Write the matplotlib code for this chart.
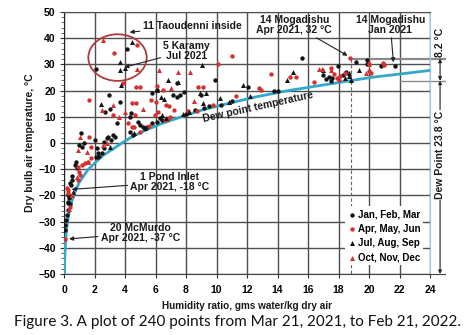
import matplotlib
matplotlib.use("Agg")
import matplotlib.pyplot as plt
from matplotlib.patches import Ellipse

plt.rcParams['font.family'] = ['Liberation Sans', 'DejaVu Sans']

# ---- Dew point curve (humidity ratio g/kg vs dew point °C) ----
dp_temp = [-50, -45, -40, -35, -30, -25, -20, -15, -10, -5, 0, 2.5, 5, 7.5, 10, 12.5, 15, 17.5, 20, 23.8, 25, 27.7]
dp_w = [0.024, 0.045, 0.079, 0.14, 0.23, 0.39, 0.63, 1.0, 1.6, 2.5, 3.8, 4.5, 5.4, 6.45, 7.7, 9.0, 10.7, 12.5, 14.7, 18.8, 20.1, 24.0]

# ---- Jan, Feb, Mar (black circles) ----
jfm_x = [0.07, 0.07, 0.11, 0.18, 0.24, 0.28, 0.4, 0.24, 0.33, 0.28, 0.46, 0.4, 0.5, 0.5, 0.72, 0.77, 0.83,
         1.16, 1.33, 1.1, 1.0, 2.03, 2.14, 2.2, 2.08, 2.9, 3.23, 3.34, 3.1, 2.25, 2.47, 2.6, 2.8, 2.6,
         2.1, 2.97, 3.67, 2.7, 3.0, 3.45, 4.3, 4.4, 4.87, 5.0, 5.16, 4.3, 4.5, 5.46, 5.75, 6.3, 6.4, 6.1,
         5.75, 7.17, 7.4, 7.4, 4.1, 7.9, 7.6, 12.07, 13.8, 14.0, 15.6, 17.95, 19.15, 19.9, 19.9, 20.8,
         21.7, 17.4, 17.6, 18.3, 9.9, 9.0, 6.07, 8.0, 8.6, 9.5, 10.3, 11.0, 9.2, 17.2, 17.5, 17.0, 18.5]
jfm_y = [-33.2, -31.3, -29.4, -27.5, -25.6, -23.0, -23.3, -22.4, -21.1, -19.8, -16.0, -15.4, -14.1, -12.5, -8.4, -7.1, -9.7,
         -1.4, -0.1, 3.9, -0.8, 1.1, -2.0, -4.0, -5.2, 2.4, 3.1, 2.2, 1.1, -5.5, -3.9, 0.5, 1.8, -2.0,
         28.1, 18.3, 15.8, 11.9, 12.9, 7.5, 10.0, 11.6, 8.1, 6.9, 6.2, 4.3, 3.1, 6.2, 7.5, 9.4, 8.8, 8.1,
         19.0, 18.3, 17.4, 22.8, 36.0, 19.6, 18.3, 21.4, 20.0, 20.0, 32.3, 29.4, 31.0, 30.3, 31.5, 29.4,
         29.5, 25.3, 25.0, 26.0, 24.2, 18.5, 20.3, 11.0, 12.5, 14.0, 14.5, 16.0, 13.5, 24.5, 23.8, 26.0, 27.0]

# ---- Apr, May, Jun (red circles) ----
amj_x = [0.07, 0.18, 0.28, 0.24, 0.4, 0.98, 1.05, 0.94, 1.8, 1.6, 1.38, 1.16, 0.94, 1.66, 1.8, 1.66,
         3.28, 4.77, 4.74, 4.98, 4.44, 4.75, 3.2, 4.65, 4.2, 4.44, 4.6, 5.0, 5.6, 5.7, 6.0, 6.7, 6.9, 7.2,
         5.97, 6.15, 6.6, 6.84, 6.95, 6.1, 8.8, 9.1, 8.15, 8.7, 9.8, 10.1, 11.0, 11.3, 12.8, 12.9, 13.55,
         14.8, 15.2, 16.4, 18.75, 21.0, 20.0, 20.1, 17.7, 17.9, 18.1, 18.0, 18.4, 17.5, 20.9, 6.5, 3.9]
amj_y = [-36.8, -17.3, -17.9, -19.2, -24.3, -11.0, -12.2, -14.1, -5.8, -7.1, -7.7, -8.4, -9.0, 2.4, -1.6, 16.4,
         34.2, 37.4, 21.5, 21.5, 15.1, 15.1, 10.7, 10.7, 7.5, 6.0, 6.2, 4.3, 6.3, 16.4, 15.8, 14.5, 14.1, 12.6,
         10.7, 11.9, 8.6, 9.2, 9.8, 21.8, 21.5, 21.5, 12.2, 12.4, 14.6, 30.2, 33.2, 17.9, 20.9, 20.2, 26.2,
         25.3, 25.3, 23.4, 32.3, 29.9, 27.3, 26.7, 26.5, 24.7, 25.5, 24.2, 26.8, 28.5, 30.5, 20.3, 22.8]

# ---- Jul, Aug, Sep (black triangles) ----
jas_x = [0.6, 2.4, 3.74, 3.67, 3.67, 4.0, 4.44, 6.8, 7.45, 6.08, 6.36, 6.56, 6.4, 6.7, 4.6, 9.03, 8.9,
         9.3, 10.2, 9.1, 11.75, 14.6, 15.0, 17.0, 19.35, 18.7, 18.7, 18.85, 18.4, 2.3, 3.0, 5.3, 7.8, 8.2,
         10.8, 12.2]
jas_y = [-18.6, 14.8, 22.1, 30.8, 27.9, 28.5, 38.7, 24.0, 23.4, 20.2, 17.7, 16.7, 10.7, 9.4, 3.7, 29.8, 19.2,
         19.2, 17.0, 15.1, 22.1, 24.0, 27.0, 28.0, 27.9, 26.6, 25.5, 24.0, 24.7, -4.5, -1.5, 5.8, 11.2, 11.8,
         15.8, 17.8]

# ---- Oct, Nov, Dec (red triangles) ----
ond_x = [1.05, 0.94, 1.49, 2.58, 2.8, 3.2, 2.47, 3.6, 4.0, 2.58, 4.77, 6.2, 7.5, 8.26, 8.5, 16.75,
         16.95, 17.5, 19.8, 20.0, 20.0, 1.55, 0.5, 0.3, 0.83, 5.2, 7.0]
ond_y = [2.4, -2.7, -3.3, -0.8, -0.1, 14.5, 12.6, 10.0, 11.8, 39.3, 28.1, 27.9, 27.2, 27.0, 16.0, 28.1,
         28.1, 27.9, 26.7, 31.0, 30.0, -7.1, -20.0, -25.0, -13.0, 13.0, 21.0]

x_ticks = list(range(0, 25, 2))
y_ticks = list(range(-50, 51, 10))

BLACK = '#141414'
RED = '#d3302f'
TEAL = '#33a9c9'
GRID = '#4f4f4f'
TXT = '#1a1a1a'

fig = plt.figure(figsize=(4.75, 3.35), dpi=100)
ax = fig.add_axes([64/475, 1-274/335, 366/475, 262/335])
ax.set_xlim(0, 24)
ax.set_ylim(-50, 50)
ax.set_xticks(x_ticks)
ax.set_yticks(y_ticks)
ax.set_yticks(range(-50, 51, 2), minor=True)
ax.grid(True, which='major', color=GRID, lw=1.0)
ax.set_axisbelow(True)
for lab in ax.get_xticklabels() + ax.get_yticklabels():
    lab.set_fontweight('bold')
ax.tick_params(axis='both', which='major', labelsize=7.5, length=3, width=0.8, color='#333333', pad=3)
ax.tick_params(axis='y', which='minor', length=2, width=0.6, color='#555555')
ax.tick_params(axis='x', pad=5)
ax.spines['left'].set_color('#222222')
ax.spines['bottom'].set_color('#444444')
ax.spines['top'].set_color(GRID)
ax.spines['right'].set_color('#8fcfde')

ax.plot(dp_w, dp_temp, color=TEAL, lw=2.0, zorder=3)

ax.scatter(jfm_x, jfm_y, marker='o', s=10, color=BLACK, lw=0, zorder=4, label='Jan, Feb, Mar')
ax.scatter(amj_x, amj_y, marker='o', s=10, color=RED, lw=0, zorder=4, label='Apr, May, Jun')
ax.scatter(jas_x, jas_y, marker='^', s=13, color=BLACK, lw=0, zorder=4, label='Jul, Aug, Sep')
ax.scatter(ond_x, ond_y, marker='^', s=13, color=RED, lw=0, zorder=4, label='Oct, Nov, Dec')

leg = ax.legend(loc='lower right', bbox_to_anchor=(0.995, 0.015), frameon=True, fancybox=False,
                edgecolor='none', facecolor='white', framealpha=1, handletextpad=0.2,
                borderpad=0.3, labelspacing=0.45, handlelength=0.8, markerscale=1.0,
                prop={'size': 7, 'weight': 'bold'})
leg.set_zorder(6)

# ellipse around Taoudenni points
ax.add_patch(Ellipse((3.51, 32.6), 3.83, 17.8, fill=False, edgecolor='#b23a3a', lw=1.3, zorder=5))

arrow_kw = dict(arrowstyle='-|>', color='#222222', lw=0.8, mutation_scale=6, shrinkA=0, shrinkB=0)
fs = 7.5
ax.annotate('11 Taoudenni inside', xy=(4.3, 42.3), xytext=(5.15, 44.5), fontsize=fs, fontweight='bold',
            color=TXT, ha='left', va='center', arrowprops=arrow_kw, zorder=7)
ax.annotate('5 Karamy\nJul 2021', xy=(3.95, 28.9), xytext=(8.05, 35.2), fontsize=fs, fontweight='bold',
            color=TXT, ha='center', va='center', linespacing=1.0, arrowprops=arrow_kw, zorder=7)
ax.annotate('14 Mogadishu\nApr 2021, 32 °C', xy=(18.6, 33.3), xytext=(15.1, 45.0), fontsize=fs,
            fontweight='bold', color=TXT, ha='center', va='center', linespacing=1.0,
            arrowprops=arrow_kw, zorder=7)
ax.annotate('14 Mogadishu\nJan 2021', xy=(21.6, 30.8), xytext=(21.4, 45.0), fontsize=fs,
            fontweight='bold', color=TXT, ha='center', va='center', linespacing=1.0,
            arrowprops=arrow_kw, zorder=7)
ax.annotate('1 Pond Inlet\nApr 2021, -18 °C', xy=(0.5, -17.7), xytext=(6.95, -15.0), fontsize=fs,
            fontweight='bold', color=TXT, ha='center', va='center', linespacing=1.0,
            arrowprops=arrow_kw, zorder=7)
ax.annotate('20 McMurdo\nApr 2021, -37 °C', xy=(0.33, -36.6), xytext=(5.0, -34.4), fontsize=fs,
            fontweight='bold', color=TXT, ha='center', va='center', linespacing=1.0,
            arrowprops=arrow_kw, zorder=7)
ax.text(12.7, 13.6, 'Dew point temperature', fontsize=fs, fontweight='bold', color=TXT,
        rotation=12.5, rotation_mode='anchor', ha='center', va='center', zorder=7)

# Mogadishu reference lines
ax.plot([18.75, 25.0], [32.2, 32.2], color='#8a8a8a', lw=1.6, clip_on=False, zorder=2)
ax.plot([22.0, 25.0], [23.8, 23.8], color='#8a8a8a', lw=1.0, clip_on=False, zorder=2)
ax.plot([24.0, 25.0], [-50, -50], color='#444444', lw=0.8, clip_on=False, zorder=2)
ax.plot([18.8, 18.8], [32.2, -50], color='#666666', lw=0.8, ls=(0, (3, 2)), zorder=2)

dim_kw = dict(arrowstyle='<|-|>', color='#222222', lw=0.8, mutation_scale=5, shrinkA=0, shrinkB=0)
xr = 24.66
ax.annotate('', xy=(xr, 32.2), xytext=(xr, 23.8), arrowprops=dim_kw, annotation_clip=False)
ax.text(xr, 38.3, '8.2 °C', rotation=90, fontsize=fs, fontweight='bold', color=TXT,
        ha='center', va='center', clip_on=False)
ax.annotate('', xy=(xr, 23.8), xytext=(xr, -50), arrowprops=dim_kw, annotation_clip=False)
ax.text(xr, -4.6, 'Dew Point 23.8 °C', rotation=90, fontsize=fs, fontweight='bold', color=TXT,
        ha='center', va='center', clip_on=False,
        bbox=dict(facecolor='white', edgecolor='none', pad=1.0))

ax.set_xlabel('Humidity ratio, gms water/kg dry air', fontsize=7.2, fontweight='bold', color=TXT, labelpad=4)
ax.set_ylabel('Dry bulb air temperature, °C', fontsize=7.5, fontweight='bold', color=TXT, labelpad=2)

fig.text(237/475, 1-322/335, 'Figure 3. A plot of 240 points from Mar 21, 2021, to Feb 21, 2022.',
         fontsize=11, family=['Lato', 'DejaVu Sans'], color='#111111', ha='center', va='center')

fig.savefig('out.png', dpi=100, facecolor='white')
